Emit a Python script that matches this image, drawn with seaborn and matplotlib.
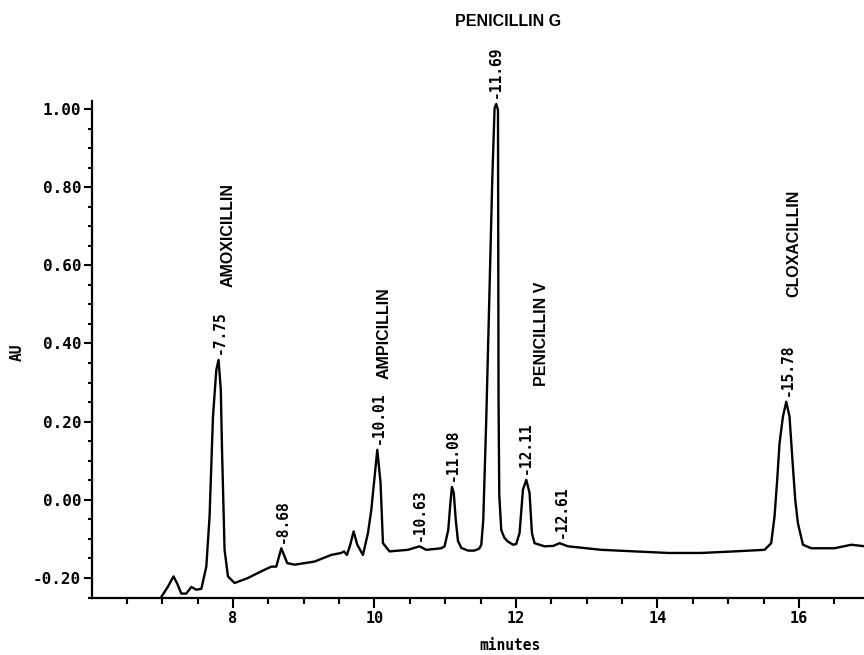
import numpy as np
import pandas as pd
import matplotlib
matplotlib.use("Agg")
import matplotlib.pyplot as plt
import seaborn as sns
from matplotlib.ticker import FixedLocator

# ---- data ----
time_min = [6.96, 7.071, 7.160, 7.213, 7.269, 7.340, 7.411, 7.481, 7.552, 7.623,
            7.669, 7.717, 7.764, 7.796, 7.828, 7.845, 7.881, 7.929, 8.023, 8.212,
            8.400, 8.541, 8.612, 8.654, 8.683, 8.725, 8.767, 8.871, 9.153, 9.389,
            9.531, 9.569, 9.611, 9.658, 9.705, 9.757, 9.837, 9.908, 9.955, 9.993,
            10.040, 10.086, 10.120, 10.213, 10.473, 10.637, 10.732, 10.944, 10.991, 11.043,
            11.071, 11.095, 11.121, 11.149, 11.180, 11.227, 11.322, 11.411, 11.481, 11.510,
            11.538, 11.580, 11.623, 11.665, 11.698, 11.722, 11.746, 11.754, 11.764, 11.792,
            11.835, 11.887, 11.962, 12.004, 12.051, 12.099, 12.146, 12.192, 12.226, 12.263,
            12.404, 12.527, 12.616, 12.735, 13.206, 13.676, 14.148, 14.619, 15.090, 15.514,
            15.608, 15.655, 15.693, 15.726, 15.774, 15.821, 15.867, 15.915, 15.948, 15.986,
            16.057, 16.174, 16.503, 16.739, 16.937]
absorbance = [-0.256, -0.225, -0.196, -0.215, -0.240, -0.240, -0.223, -0.230, -0.228, -0.171,
              -0.043, 0.212, 0.332, 0.358, 0.281, 0.128, -0.128, -0.196, -0.213, -0.200,
              -0.183, -0.171, -0.171, -0.143, -0.124, -0.143, -0.162, -0.166, -0.158, -0.141,
              -0.136, -0.132, -0.141, -0.115, -0.081, -0.115, -0.141, -0.085, -0.026, 0.043,
              0.128, 0.043, -0.111, -0.132, -0.128, -0.119, -0.128, -0.124, -0.119, -0.077,
              -0.013, 0.033, 0.018, -0.051, -0.105, -0.123, -0.130, -0.130, -0.125, -0.115,
              -0.051, 0.205, 0.512, 0.818, 1.003, 1.013, 0.997, 0.256, 0.013, -0.077,
              -0.097, -0.107, -0.115, -0.113, -0.085, 0.026, 0.051, 0.018, -0.085, -0.111,
              -0.119, -0.118, -0.111, -0.119, -0.128, -0.132, -0.136, -0.136, -0.132, -0.128,
              -0.111, -0.043, 0.051, 0.145, 0.213, 0.251, 0.213, 0.085, 0.000, -0.060,
              -0.115, -0.124, -0.124, -0.115, -0.119]

rt_labels = ["-7.75", "-8.68", "-10.01", "-10.63", "-11.08", "-11.69", "-12.11", "-12.61", "-15.78"]
rt_x = [7.806, 8.697, 10.054, 10.633, 11.10, 11.708, 12.132, 12.641, 15.836]
rt_y = [0.358, -0.124, 0.128, -0.119, 0.033, 1.013, 0.051, -0.111, 0.251]

compounds = ["AMOXICILLIN", "AMPICILLIN", "PENICILLIN G", "PENICILLIN V", "CLOXACILLIN"]
compound_x = [7.934, 10.143, 11.89, 12.358, 15.932]
compound_y = [0.678, 0.427, 1.223, 0.425, 0.656]
compound_rot = [90, 90, 0, 90, 90]

x_major = [8, 10, 12, 14, 16]
x_minor = [6.5, 7.0, 7.5, 8.5, 9.0, 9.5, 10.5, 11.0, 11.5, 12.5, 13.0, 13.5,
           14.5, 15.0, 15.5, 16.5]
y_major = [-0.20, 0.00, 0.20, 0.40, 0.60, 0.80, 1.00]
y_minor = [-0.25, -0.15, -0.10, -0.05, 0.05, 0.10, 0.15, 0.25, 0.30, 0.35, 0.45, 0.50,
           0.55, 0.65, 0.70, 0.75, 0.85, 0.90, 0.95]

# ---- style ----
sns.set_theme(style="ticks")
plt.rcParams["font.family"] = ["DejaVu Sans Mono", "DejaVu Sans"]

df = pd.DataFrame({"minutes": time_min, "AU": absorbance})

fig = plt.figure(figsize=(8.64, 6.55), dpi=100)
ax = fig.add_axes([91.5 / 864, 57.5 / 655, 772.5 / 864, 597.5 / 655])

sns.lineplot(data=df, x="minutes", y="AU", ax=ax, color="black", linewidth=1.7,
             estimator=None, sort=False)

ax.set_xlim(6.0, 16.92)
ax.set_ylim(-0.25, 1.279)

for s in ["top", "right"]:
    ax.spines[s].set_visible(False)
for s in ["left", "bottom"]:
    ax.spines[s].set_linewidth(1.6)
    ax.spines[s].set_color("black")
ax.spines["left"].set_bounds(-0.25, 1.02)

ax.xaxis.set_major_locator(FixedLocator(x_major))
ax.xaxis.set_minor_locator(FixedLocator(x_minor))
ax.yaxis.set_major_locator(FixedLocator(y_major))
ax.yaxis.set_minor_locator(FixedLocator(y_minor))
ax.set_xticklabels([str(v) for v in x_major])
ax.set_yticklabels([f"{v:.2f}" for v in y_major])

ax.tick_params(axis="x", which="major", length=7.5, width=1.5, pad=2.5, colors="black",
               labelsize=11)
ax.tick_params(axis="x", which="minor", length=4, width=1.5, colors="black")
ax.tick_params(axis="y", which="major", length=6, width=1.5, pad=1.5, colors="black",
               labelsize=11.5)
ax.tick_params(axis="y", which="minor", length=3, width=1.5, colors="black")
for lab in ax.get_xticklabels() + ax.get_yticklabels():
    lab.set_fontweight("bold")

ax.set_xlabel("minutes", fontsize=10.5, fontweight="bold", color="black")
ax.xaxis.set_label_coords(0.542, -0.068)
ax.set_ylabel("AU", fontsize=10.5, fontweight="bold", color="black")
ax.yaxis.set_label_coords(-0.087, 0.411)

for txt, x, y in zip(rt_labels, rt_x, rt_y):
    ax.annotate(txt, xy=(x, y), xytext=(0, 4), textcoords="offset points",
                rotation=90, ha="center", va="bottom", fontsize=10.5,
                fontweight="bold", color="black")

for txt, x, y, r in zip(compounds, compound_x, compound_y, compound_rot):
    ax.text(x, y, txt, rotation=r, ha="center", va="center", fontsize=11.5,
            fontweight="bold", color="black",
            family=["Liberation Sans", "DejaVu Sans"])

fig.savefig("out.png", dpi=100)
